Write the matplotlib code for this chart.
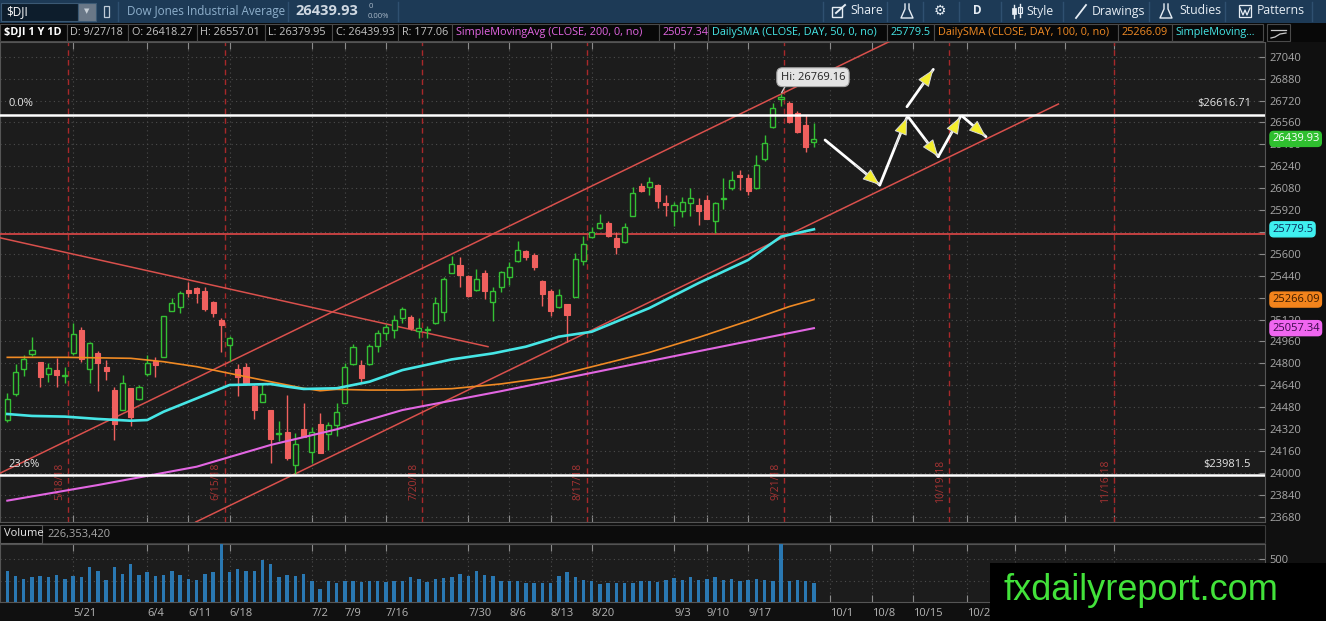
import numpy as np
import matplotlib.pyplot as plt
import matplotlib.transforms as mtrans
from matplotlib.patches import Rectangle
from matplotlib.lines import Line2D

plt.rcParams['font.family'] = ['Open Sans', 'DejaVu Sans']

# ---------------- data ----------------
# daily candles 5/9/18 .. 9/27/18 (trading day index 0..98)
opens = [24386, 24576, 24756, 24868, 24810, 24720, 24751, 24707, 24878, 25044,
         24756, 24873, 24776, 24605, 24459, 24617, 24537, 24722, 24820, 24849,
         25185, 25209, 25336, 25348, 25331, 25251, 25117, 24934, 24756, 24771,
         24635, 24520, 24459, 24287, 24301, 24058, 24318, 24155, 24357, 24284,
         24350, 24513, 24795, 24788, 24795, 24927, 25019, 25044, 25129, 25141,
         25039, 25044, 25092, 25177, 25462, 25518, 25438, 25336, 25462, 25250,
         25355, 25433, 25550, 25623, 25591, 25401, 25331, 25214, 25233, 25287,
         25550, 25725, 25786, 25828, 25713, 25689, 25877, 26096, 26086, 26103,
         25974, 25915, 25915, 25974, 25957, 25993, 25842, 25998, 26079, 26176,
         26152, 26079, 26290, 26524, 26731, 26704, 26631, 26541, 26418.27]
highs = [24581, 24793, 24861, 24990, 24810, 24800, 24837, 24771, 25092, 25063,
         24958, 24890, 24825, 24630, 24715, 24617, 24642, 24861, 24844, 25146,
         25275, 25331, 25397, 25360, 25360, 25258, 25129, 25000, 24795, 24805,
         24642, 24654, 24459, 24381, 24569, 24289, 24508, 24338, 24435, 24374,
         24513, 24800, 24941, 24825, 24941, 25044, 25087, 25153, 25214, 25153,
         25129, 25073, 25282, 25433, 25584, 25579, 25445, 25487, 25482, 25360,
         25477, 25543, 25696, 25628, 25603, 25408, 25340, 25340, 25233, 25608,
         25730, 25793, 25891, 25842, 25762, 25828, 26086, 26120, 26164, 26110,
         26030, 25981, 26017, 26079, 26006, 26030, 25981, 26152, 26208, 26213,
         26183, 26322, 26468, 26700, 26769.16, 26719, 26646, 26614, 26557.01]
lows = [24374, 24562, 24708, 24854, 24625, 24666, 24630, 24659, 24861, 24812,
        24654, 24601, 24678, 24240, 24459, 24343, 24532, 24708, 24698, 24844,
        25185, 25165, 25287, 25243, 25185, 25136, 24885, 24820, 24562, 24642,
        24391, 24518, 24075, 24235, 24094, 23992, 24260, 24070, 24143, 24167,
        24269, 24508, 24788, 24666, 24788, 24885, 24970, 24983, 25097, 25043,
        24983, 24983, 25087, 25112, 25457, 25360, 25282, 25331, 25267, 25112,
        25323, 25372, 25543, 25555, 25482, 25219, 25146, 25202, 24958, 25282,
        25518, 25713, 25779, 25726, 25599, 25682, 25877, 26054, 26030, 25932,
        25877, 25803, 25867, 25877, 25811, 25852, 25755, 25925, 26067, 26067,
        26030, 26071, 26281, 26517, 26680, 26553, 26480, 26346, 26379.95]
closes = [24537, 24734, 24829, 24898, 24703, 24764, 24712, 24714, 25014, 24829,
          24951, 24805, 24747, 24357, 24659, 24411, 24630, 24805, 24788, 25146,
          25238, 25316, 25316, 25316, 25195, 25170, 25080, 24983, 24698, 24654,
          24459, 24576, 24245, 24290, 24106, 24211, 24264, 24301, 24148, 24350,
          24447, 24776, 24917, 24691, 24927, 25024, 25063, 25117, 25194, 25056,
          25056, 25049, 25238, 25413, 25526, 25445, 25292, 25413, 25331, 25331,
          25470, 25506, 25628, 25579, 25501, 25306, 25185, 25299, 25153, 25560,
          25672, 25762, 25827, 25730, 25653, 25794, 26047, 26062, 26127, 25989,
          25957, 25957, 25981, 26006, 25915, 25852, 25974, 26006, 26140, 26159,
          26062, 26249, 26407, 26663, 26748, 26566, 26493, 26383, 26439.93]
# volume, millions of shares
volumes = [364, 306, 271, 287, 306, 287, 318, 271, 306, 287,
           403, 357, 260, 403, 329, 442, 318, 345, 306, 318,
           357, 318, 271, 260, 329, 345, 674, 345, 384, 364,
           357, 484, 446, 295, 318, 306, 329, 248, 155, 240,
           221, 240, 240, 229, 248, 240, 229, 248, 248, 287,
           271, 229, 271, 279, 291, 329, 298, 357, 318, 306,
           240, 240, 240, 221, 221, 221, 221, 298, 345, 291,
           252, 240, 209, 221, 221, 221, 221, 240, 240, 229,
           260, 279, 260, 287, 260, 271, 287, 260, 271, 240,
           260, 267, 260, 248, 674, 248, 260, 248, 226.35]
last_volume = 226353420

# moving averages sampled at bar indices
sma50_bar = [0, 3, 7, 11, 15, 17, 19, 23, 27, 32, 34, 36, 40, 44, 48, 54, 59, 63, 67, 71, 78, 84, 90, 94, 98]
sma50_val = [24430, 24416, 24411, 24394, 24381, 24386, 24447, 24544, 24642, 24649, 24630, 24613,
             24618, 24666, 24751, 24829, 24873, 24922, 24995, 25031, 25204, 25387, 25555, 25726, 25779.5]
sma100_bar = [0, 7, 15, 19, 23, 27, 32, 36, 38, 40, 44, 48, 54, 60, 66, 72, 78, 84, 90, 95, 98]
sma100_val = [24844, 24844, 24837, 24812, 24776, 24727, 24666, 24618, 24600, 24610, 24605, 24605,
              24615, 24650, 24700, 24790, 24880, 24990, 25110, 25215, 25266.09]
sma200_bar = [0, 11, 23, 32, 40, 48, 60, 72, 84, 98]
sma200_val = [23797, 23911, 24045, 24204, 24318, 24459, 24597, 24743, 24889, 25057.34]

# drawings
fib_levels = [26616.71, 23981.5]
fib_labels = ['0.0%', '23.6%']
fib_prices = ['$26616.71', '$23981.5']
resistance = 25745
trend_lines = [((-1.0, 23994), (110.0, 27234)),     # upper channel
               ((22.9, 23641), (127.7, 26695)),     # lower channel
               ((-1.0, 25719), (58.4, 24922))]      # falling line
expiry_bar = [7, 26, 50, 70, 94, 114, 134]
expiry_lab = ['5/18/18', '6/15/18', '7/20/18', '8/17/18', '9/21/18', '10/19/18', '11/16/18']
arrows = [((99.35, 26432), (106.0, 26103)),
          ((106.0, 26103), (109.3, 26597)),
          ((109.3, 26675), (112.5, 26948)),
          ((109.5, 26597), (113.1, 26310)),
          ((113.1, 26310), (115.8, 26602)),
          ((116.0, 26607), (118.9, 26456))]
hi_bar = 94

tick_bar = [8, 17, 22, 27, 37, 41, 46, 56, 61, 66, 71, 81, 85, 90, 100, 105, 110, 116.6, 122.4, 128.5, 134.5]
tick_lab = ['5/21', '6/4', '6/11', '6/18', '7/2', '7/9', '7/16', '7/30', '8/6', '8/13', '8/20',
            '9/3', '9/10', '9/17', '10/1', '10/8', '10/15', '10/22', '10/29', '11/5', '11/12']

# ---------------- figure ----------------
W, H = 1326, 621


def fx(x):
    return x / W


def fy(y):
    return 1 - y / H


fig = plt.figure(figsize=(W / 100, H / 100), dpi=100)
fig.patch.set_facecolor('#101010')


def frect(x0, y0, x1, y1, **kw):
    fig.add_artist(Rectangle((fx(x0), fy(y1)), fx(x1) - fx(x0), fy(y0) - fy(y1),
                             transform=fig.transFigure, **kw))


def fline(xs, ys, **kw):
    fig.add_artist(Line2D([fx(x) for x in xs], [fy(y) for y in ys],
                          transform=fig.transFigure, **kw))


def ftext(x, y, s, **kw):
    kw.setdefault('va', 'center')
    kw.setdefault('ha', 'left')
    fig.text(fx(x), fy(y), s, **kw)


GREEN = '#34c034'
RED = '#f0605e'
CYAN = '#46e6e6'
ORANGE = '#f08a24'
MAGENTA = '#e266e2'
BG = '#1c1c1c'
GRID = '#4c4c4c'
XL = (-0.887, 152.8)

# ---- price panel
ax = fig.add_axes([0, fy(522), fx(1265), (522 - 42) / H])
ax.set_facecolor(BG)
ax.set_xlim(*XL)
ax.set_ylim(23641, 27148)
ax.yaxis.tick_right()
ax.set_yticks(np.arange(23680, 27041, 160))
ax.set_xticks(tick_bar)
ax.tick_params(axis='x', direction='in', length=5, color='#8a8a8a', top=True, labelbottom=False)
ax.tick_params(axis='y', direction='in', length=4, color='#8a8a8a', pad=3,
               labelsize=8, labelcolor='#a8a8a8')
ax.grid(True, color=GRID, ls=(0, (1, 3)), lw=0.8)
for sp in ax.spines.values():
    sp.set_color('#555555')

bars = np.arange(len(closes))
o = np.array(opens)
c = np.array(closes)
up = c >= o
body_lo = np.minimum(o, c)
body_h = np.maximum(np.abs(c - o), 5)
ax.vlines(bars, lows, highs, colors=np.where(up, GREEN, RED), lw=1, zorder=4)
ax.bar(bars[up], body_h[up], 0.62, bottom=body_lo[up], facecolor=BG, edgecolor=GREEN, lw=1, zorder=5)
ax.bar(bars[~up], body_h[~up], 0.62, bottom=body_lo[~up], facecolor=RED, edgecolor=RED, lw=0.8, zorder=5)

ax.plot(sma200_bar, sma200_val, color=MAGENTA, lw=1.5, zorder=6)
ax.plot(sma100_bar, sma100_val, color=ORANGE, lw=1.2, zorder=6)
ax.plot(sma50_bar, sma50_val, color=CYAN, lw=1.9, zorder=6)

for (x0, y0), (x1, y1) in trend_lines:
    ax.plot([x0, x1], [y0, y1], color='#d9504c', lw=1.1, zorder=3)
ax.axhline(resistance, color='#e04848', lw=1.2, zorder=3)

blend = mtrans.blended_transform_factory(ax.transAxes, ax.transData)
for lvl, lab, ptxt in zip(fib_levels, fib_labels, fib_prices):
    ax.axhline(lvl, color='white', lw=1.8, zorder=7)
    ax.annotate(lab, xy=(0, lvl), xycoords=blend, xytext=(6, 4), textcoords='offset points',
                ha='left', va='bottom', color='#e6e6e6', fontsize=8)
    ax.annotate(ptxt, xy=(1, lvl), xycoords=blend, xytext=(-10, 4),
                textcoords='offset points', ha='right', va='bottom', color='#e6e6e6', fontsize=8)

for b, lab in zip(expiry_bar, expiry_lab):
    ax.axvline(b + 0.4, color='#a8282a', lw=1, ls=(0, (4, 3)), zorder=2)
    ax.annotate(lab, xy=(b + 0.4, 0.085), xycoords=('data', 'axes fraction'), xytext=(-2, 0),
                textcoords='offset points', rotation=90, ha='right', va='center',
                color='#a83434', fontsize=7.5)

for (x0, y0), (x1, y1) in arrows:
    ax.plot([x0, x1], [y0, y1], color='white', lw=2, zorder=8, solid_capstyle='round')
    xm, ym = x0 + 0.55 * (x1 - x0), y0 + 0.55 * (y1 - y0)
    ax.annotate('', xy=(x1, y1), xytext=(xm, ym),
                arrowprops=dict(arrowstyle='-|>,head_length=1.1,head_width=0.42', mutation_scale=10,
                                fc='#f4ee2c', ec='#d8d8d8', lw=0.7, shrinkA=0, shrinkB=0), zorder=9)

ax.annotate('Hi: %.2f' % highs[hi_bar], xy=(hi_bar, highs[hi_bar]), xytext=(23, 12),
            textcoords='offset points', ha='center', va='center', fontsize=8, color='#222222',
            bbox=dict(boxstyle='round,pad=0.35,rounding_size=0.5', fc='#e4e4e4', ec='#a8a8a8', lw=0.8),
            arrowprops=dict(arrowstyle='-', color='#d0d0d0', lw=1, relpos=(0.1, 0.0),
                            shrinkA=0, shrinkB=1), zorder=10)

tags = [(closes[-1], '%.2f' % closes[-1], '#2fbf2f', 'white'),
        (sma50_val[-1], '%g' % sma50_val[-1], '#3ff0f0', '#0a2a5a'),
        (sma100_val[-1], '%.2f' % sma100_val[-1], '#f4841c', '#3a1a00'),
        (sma200_val[-1], '%.2f' % sma200_val[-1], '#f066f0', '#3a0a4a')]
for val, txt, fc, tc in tags:
    ax.annotate(txt, xy=(1, val), xycoords=blend, xytext=(5, 0), textcoords='offset points',
                ha='left', va='center', fontsize=8, color=tc, annotation_clip=False, zorder=12,
                bbox=dict(boxstyle='round,pad=0.18,rounding_size=0.35', fc=fc, ec=fc))

# ---- volume panel
axv = fig.add_axes([0, fy(602), fx(1265), (602 - 544) / H])
axv.set_facecolor(BG)
axv.bar(bars, volumes, 0.42, color='#2a78b2', zorder=3)
axv.set_xlim(*XL)
axv.set_ylim(0, 676)
axv.yaxis.tick_right()
axv.set_yticks([250, 500])
axv.set_yticklabels(['', '500'])
axv.set_xticks(tick_bar)
axv.set_xticklabels(tick_lab, ha='left')
axv.tick_params(axis='x', direction='in', length=5, color='#8a8a8a', top=True, pad=4,
                labelsize=8, labelcolor='#b4b4b4')
axv.tick_params(axis='y', direction='in', length=4, color='#8a8a8a', pad=3,
                labelsize=8, labelcolor='#a8a8a8')
axv.grid(True, color=GRID, ls=(0, (1, 3)), lw=0.8)
for sp in axv.spines.values():
    sp.set_color('#555555')

# volume header strip
frect(0, 525, 1265, 543, fc='#0c0c0c', ec='#3c3c3c', lw=0.8)
frect(0, 525, 42, 543, fc='#0c0c0c', ec='#5a5a5a', lw=0.8)
ftext(4, 534, 'Volume', color='#e8e8e8', fontsize=8)
ftext(47, 534, '{:,}'.format(last_volume), color='#a8a8a8', fontsize=8)

# ---- top toolbar
frect(0, 0, W, 23, fc='#1d3a56', ec='none')
frect(1, 3, 78, 21, fc='#0d1d2c', ec='#3b5974', lw=0.8)
frect(78, 3, 96, 21, fc='#6a7888', ec='#3b5974', lw=0.8)
ftext(87, 12, '\u25BC', ha='center', color='#c8d0d8', fontsize=5)
ftext(6, 12, '$DJI', color='white', fontsize=8.5)
frect(104, 6, 109, 17, fc='none', ec='#c0ccd8', lw=0.9)
for xs in [118, 288, 398]:
    fline([xs, xs], [2, 21], color='#2f5070', lw=1)
ftext(127, 11, 'Dow Jones Industrial Average', color='#8fb0cc', fontsize=8.4)
ftext(295, 11, '%.2f' % closes[-1], color='#cfd8e2', fontsize=10.5, fontweight='bold')
ftext(369, 7, '0', color='#a8b8c8', fontsize=5.5)
ftext(368, 16, '0.00%', color='#a8b8c8', fontsize=5.5)

TB = '#e6edf4'
for xs in [823, 887, 923, 959, 1001, 1063, 1149, 1225, 1312]:
    fline([xs, xs], [2, 21], color='#2f5070', lw=1)
# share icon
frect(832, 7, 842, 17, fc='none', ec=TB, lw=1)
fline([836, 845], [13, 5], color=TB, lw=1.4)
ftext(850, 11, 'Share', color=TB, fontsize=8.8)
# flask icons
for cx in [907, 1166]:
    fline([cx - 2, cx - 2, cx - 6, cx + 6, cx + 2, cx + 2],
          [4, 9, 18, 18, 9, 4], color=TB, lw=1)
ftext(940, 11, '\u2699', ha='center', color=TB, fontsize=10, family='DejaVu Sans')
ftext(977, 11, 'D', ha='center', color=TB, fontsize=8.5, fontweight='bold')
# style icon
fline([1014, 1014], [5, 18], color=TB, lw=1)
frect(1012, 8, 1016, 14, fc=TB, ec=TB, lw=0.5)
fline([1020, 1020], [4, 17], color=TB, lw=1)
frect(1018, 7, 1022, 13, fc='none', ec=TB, lw=0.8)
ftext(1026, 11, 'Style', color=TB, fontsize=8.8)
fline([1076, 1086], [18, 5], color=TB, lw=1.3)
ftext(1092, 11, 'Drawings', color=TB, fontsize=8.8)
ftext(1179, 11, 'Studies', color=TB, fontsize=8.8)
frect(1239, 5, 1251, 17, fc='none', ec=TB, lw=0.9)
fline([1240, 1243, 1245, 1247, 1250], [8, 15, 10, 15, 8], color=TB, lw=0.9)
ftext(1257, 11, 'Patterns', color=TB, fontsize=8.8)

# ---- study header row
frect(0, 23, W, 42, fc='#080808', ec='none')
hdr = [(0, 66.7, '$DJI 1 Y 1D', 'white', 'bold'),
       (66.7, 128, 'D: 9/27/18', '#c4c4c4', 'normal'),
       (128, 197, 'O: %.2f' % opens[-1], '#c4c4c4', 'normal'),
       (197, 265, 'H: %.2f' % highs[-1], '#c4c4c4', 'normal'),
       (265, 332, 'L: %.2f' % lows[-1], '#c4c4c4', 'normal'),
       (332, 398, 'C: %.2f' % closes[-1], '#c4c4c4', 'normal'),
       (398, 452, 'R: %.2f' % (highs[-1] - lows[-1]), '#c4c4c4', 'normal'),
       (452, 659, 'SimpleMovingAvg (CLOSE, 200, 0, no)', MAGENTA, 'normal'),
       (659, 708, '%.2f' % sma200_val[-1], MAGENTA, 'normal'),
       (708, 887, 'DailySMA (CLOSE, DAY, 50, 0, no)', CYAN, 'normal'),
       (887, 934, '%g' % sma50_val[-1], CYAN, 'normal'),
       (934, 1118, 'DailySMA (CLOSE, DAY, 100, 0, no)', ORANGE, 'normal'),
       (1118, 1172, '%.2f' % sma100_val[-1], ORANGE, 'normal'),
       (1172, 1263, 'SimpleMoving...', CYAN, 'normal')]
for x0, x1, s, col, wt in hdr:
    frect(x0, 24, x1, 41, fc='#080808', ec='#4a4a4a', lw=0.8)
    ftext(x0 + 3.5, 32.5, s, color=col, fontsize=7.8, fontweight=wt)
frect(1267, 24, 1290, 41, fc='#080808', ec='#4a4a4a', lw=0.8)
fline([1271, 1286], [30, 30], color='#c8c8c8', lw=0.9)
fline([1271, 1275, 1280, 1286], [38, 37, 34, 33], color='#c8c8c8', lw=0.9)

# ---- watermark
frect(990, 563, W, H, fc='black', ec='none', zorder=20)
fig.text(fx(1004), fy(590), 'fxdailyreport.com', color='#42e23a', fontsize=26,
         family=['Liberation Sans', 'DejaVu Sans'], va='center', ha='left', zorder=21)

fig.savefig('out.png', dpi=100, facecolor=fig.get_facecolor())
